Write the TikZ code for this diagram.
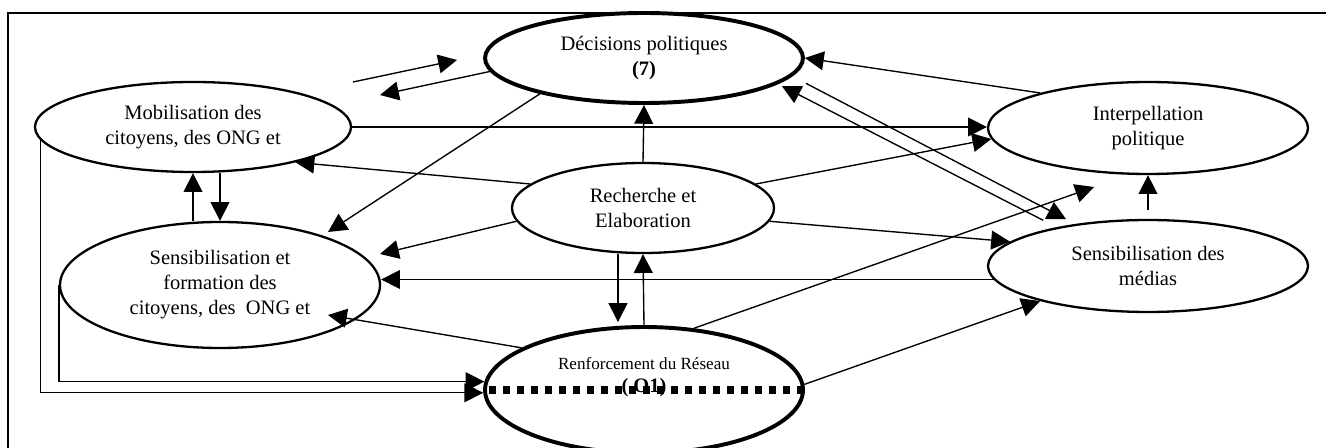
\documentclass[tikz,border=0pt]{standalone}
\usepackage{fontspec}
\setmainfont{Liberation Serif}
\usetikzlibrary{arrows.meta,calc,shapes.geometric}
\begin{document}
\begin{tikzpicture}[x=0.585pt,y=-0.585pt,
  box/.style={ellipse,draw,line width=1.35pt,inner sep=0pt,align=center,font=\fontsize{12}{14.6}\selectfont},
  bigbox/.style={box,line width=2.3pt},
  arr/.style={-{Triangle[length=11pt,width=11pt]},line width=0.8pt},
  frameline/.style={line width=1.35pt},
  dotline/.style={line width=4.1pt,dash pattern=on 4.1pt off 4.1pt}]
\useasboundingbox (0,0) rectangle (1326,448);
\draw[frameline] (1330,13) -- (8,13) -- (8,452);

% nodes
\node[box,minimum width=184.9pt,minimum height=52.65pt] (mob) at (193,127) {Mobilisation des\\citoyens, des ONG et};
\node[box,minimum width=187.2pt,minimum height=73.7pt] (sens) at (220,285) {Sensibilisation et\\formation des\\citoyens, des~ ONG et};
\node[bigbox,minimum width=186pt,minimum height=52.65pt] (dec) at (644,58) {Décisions politiques\\\textbf{(7)}};
\node[box,minimum width=153.3pt,minimum height=52.65pt] (rech) at (643,208) {Recherche et\\Elaboration};
\node[bigbox,minimum width=186pt,minimum height=73.7pt] (renf) at (644,390) {};
\node[align=center,inner sep=0pt,font=\fontsize{12}{13.5}\selectfont] (renfT) at (644,377) {{\fontsize{10}{12}\selectfont Renforcement du Réseau}\\\textbf{( O1)}};
\draw[dotline] ($(renf.west)+(6,0)$) -- (renf.east);
\node[box,minimum width=187.2pt,minimum height=53.8pt] (inter) at (1148,128) {Interpellation\\politique};
\node[box,minimum width=187.2pt,minimum height=53.8pt] (med) at (1148,266) {Sensibilisation des\\médias};

% free coordinates
\coordinate (fa1) at (353,82);
\coordinate (fa2) at (457,60);
\coordinate (fb) at (380,95);
\coordinate (ds) at (328,232);
\coordinate (rs) at (380,254);
\coordinate (rns) at (328,315);
\coordinate (ri) at (1094,187);
\coordinate (mi) at (1148,210);

% connectors
\draw[arr] (fa1) -- (fa2);
\draw[arr] (dec.185) -- (fb);
\draw[arr] (mob.east) -- (mob.east -| inter.west);
\draw[arr] (rech.168) -- (mob.341);
\draw[arr] (dec.199) -- (ds);
\draw[arr] (sens.north -| mob.south) -- (mob.south);
\draw[arr] (mob.south -| sens.north) -- (sens.north);
\draw[arr] (rech.186) -- (rs);
\draw[arr] (med.185) -- (med.185 -| sens.east);
\draw[arr] (renf.161.5) -- (rns);
\draw[arr] (mob.185) |- (renf.181.5);
\draw[arr] (sens.west) |- (renf.177.5);
\draw[arr] (rech.north) -- (dec.south);
\draw[arr] ($(rech.south)+(-25,0)$) -- ($(renf.north)+(-26,-3)$);
\draw[arr] (renf.north) -- (rech.south);
\draw[arr,shorten <=9pt,shorten >=6pt] (dec.353) -- (med.150);
\draw[arr,shorten <=8.8pt,shorten >=2.6pt] (med.157.7) -- (dec.349.3);
\draw[arr] (inter.162) -- (dec.east);
\draw[arr] (rech.12.6) -- (inter.184);
\draw[arr] (rech.354.5) -- (med.170);
\draw[arr] (renf.51) -- (ri);
\draw[arr] (mi) -- (inter.south);
\draw[arr] (renf.2.8) -- (med.198.3);
\end{tikzpicture}
\end{document}
